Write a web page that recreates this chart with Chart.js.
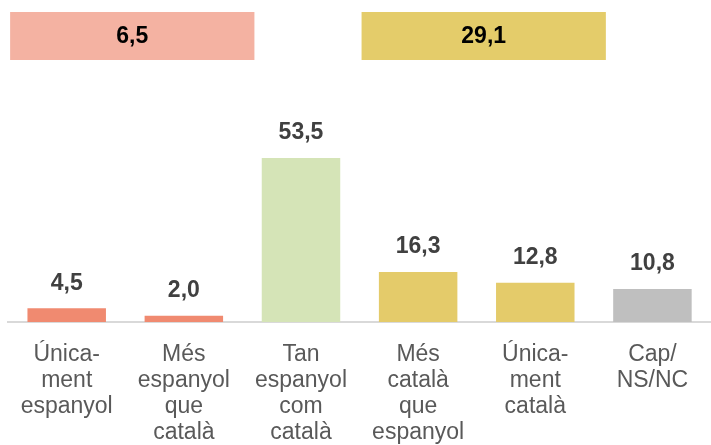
<!DOCTYPE html>
<html>
<head>
<meta charset="utf-8">
<script src="https://cdn.jsdelivr.net/npm/chart.js@4"></script>
<style>
  html, body { margin: 0; padding: 0; background: #fff; }
  #wrap { width: 711px; height: 445px; position: relative; }
</style>
</head>
<body>
<div id="wrap"><canvas id="myChart"></canvas></div>
<script>
// data
var labels = [
  ["Única-", "ment", "espanyol"],
  ["Més", "espanyol", "que", "català"],
  ["Tan", "espanyol", "com", "català"],
  ["Més", "català", "que", "espanyol"],
  ["Única-", "ment", "català"],
  ["Cap/", "NS/NC"]
];
var values = [4.5, 2.0, 53.5, 16.3, 12.8, 10.8];
var barColors = ["#F08A70", "#F08A70", "#D5E4B7", "#E4CB6A", "#E4CB6A", "#BFBFBF"];
// summary boxes: which categories they span, value, colour
var groupFrom = [0, 3];
var groupTo = [1, 4];
var groupValues = [6.5, 29.1];
var groupColors = ["#F4B2A2", "#E4CC6A"];

function fmt(v) { return v.toFixed(1).replace(".", ","); }

var FONT = "'Liberation Sans', Arial, sans-serif";

var labelsPlugin = {
  id: "labelsPlugin",
  afterDatasetsDraw: function(chart) {
    var ctx = chart.ctx;
    var meta = chart.getDatasetMeta(0);
    ctx.save();
    ctx.font = "bold 23px " + FONT;
    ctx.fillStyle = "#404040";
    ctx.textAlign = "center";
    ctx.textBaseline = "middle";
    meta.data.forEach(function(bar, i) {
      ctx.fillText(fmt(values[i]), bar.x, bar.y - 25);
    });
    // summary boxes
    var x = chart.scales.x;
    var half = (x.getPixelForValue(1) - x.getPixelForValue(0)) / 2;
    for (var g = 0; g < groupValues.length; g++) {
      var left = x.getPixelForValue(groupFrom[g]) - half + 2;
      var right = x.getPixelForValue(groupTo[g]) + half + 12;
      ctx.fillStyle = groupColors[g];
      ctx.fillRect(left, 12, right - left, 48);
      ctx.fillStyle = "#000";
      ctx.fillText(fmt(groupValues[g]), (left + right) / 2, 37);
    }
    ctx.restore();
  }
};

var ctx = document.getElementById("myChart").getContext("2d");
var myChart = new Chart(ctx, {
  type: "bar",
  data: {
    labels: labels,
    datasets: [{
      data: values,
      backgroundColor: barColors,
      barPercentage: 0.67,
      categoryPercentage: 1.0
    }]
  },
  options: {
    responsive: true,
    maintainAspectRatio: false,
    animation: false,
    layout: { padding: { top: 138, left: 8, right: 0, bottom: 0 } },
    plugins: { legend: { display: false }, tooltip: { enabled: false } },
    scales: {
      x: {
        grid: { display: false, drawTicks: false },
        border: { display: true, color: "#D9D9D9", width: 2 },
        ticks: {
          color: "#595959",
          font: { family: FONT, size: 23, lineHeight: 1.12 },
          padding: 20,
          maxRotation: 0,
          autoSkip: false
        },
        afterFit: function(scale) { scale.height = 123; }
      },
      y: {
        display: false,
        min: 0,
        max: 60
      }
    }
  },
  plugins: [labelsPlugin]
});
</script>
</body>
</html>
